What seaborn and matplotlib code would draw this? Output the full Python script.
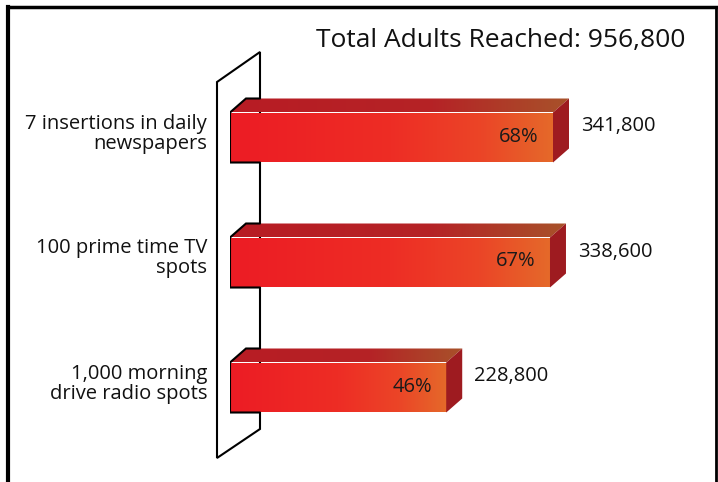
import numpy as np
import pandas as pd
import matplotlib.pyplot as plt
import seaborn as sns
from matplotlib.colors import LinearSegmentedColormap
from matplotlib.patches import Polygon

#%% data
categories = ["7 insertions in daily\nnewspapers",
              "100 prime time TV\nspots",
              "1,000 morning\ndrive radio spots"]
reached = [341800, 338600, 228800]
share = [68, 67, 46]
total_reached = 956800

df = pd.DataFrame({"media": categories, "reached": reached, "share": share})

#%% style
sns.set_theme(style="white")
plt.rcParams["font.family"] = ["Open Sans", "DejaVu Sans"]

W, H = 718, 482
fig = plt.figure(figsize=(W / 100, H / 100), dpi=100)

# background layer in pixel coordinates (frame, wall, title)
deco = fig.add_axes([0, 0, 1, 1])
deco.set_xlim(0, W)
deco.set_ylim(H, 0)
deco.axis("off")

deco.plot([8, 8], [7, H], color="black", lw=3, solid_capstyle="projecting")
deco.plot([8, 716], [7, 7], color="black", lw=2.5, solid_capstyle="projecting")
deco.plot([716, 716], [7, H], color="black", lw=2)

wall = Polygon([(217, 82), (260, 52), (260, 429), (217, 458)], closed=True,
               facecolor="white", edgecolor="black", lw=1.5)
deco.add_patch(wall)

deco.text(685, 40, f"Total Adults Reached: {total_reached:,}", ha="right",
          va="center", fontsize=19, color="#111111")

#%% bars
x_left_px, bar_px = 230, 323
ax = fig.add_axes([x_left_px / W, (H - 450) / H, (W - x_left_px) / W, 375 / H])
xmax = (W - x_left_px) / bar_px * max(reached)
sns.barplot(data=df, y="media", x="reached", orient="h", width=0.4,
            color="#ec1c24", ax=ax)
ax.set_xlim(0, xmax)
ax.set_ylim(2.5, -0.5)
ax.axis("off")
ax.patch.set_alpha(0)

sx = xmax / (W - x_left_px)   # data units per pixel, x
sy = 3 / 375                   # data units per pixel, y
dx, dy = 16 * sx, 14 * sy
wall_edge = 30 * sx

front_cmap = LinearSegmentedColormap.from_list(
    "front", [(0, "#ec1c24"), (0.5, "#ee2d25"), (0.78, "#eb4527"), (1, "#e5692a")])
top_cmap = LinearSegmentedColormap.from_list(
    "top", [(0, "#b81c24"), (0.6, "#b52326"), (1, "#a8522a")])
grad = np.linspace(0, 1, 256).reshape(1, -1)

for i, p in enumerate(ax.patches):
    x0, y0 = p.get_x(), p.get_y()
    w, h = p.get_width(), p.get_height()
    p.set_facecolor("none")
    p.set_linewidth(0)

    im = ax.imshow(grad, cmap=front_cmap, aspect="auto",
                   extent=[x0, x0 + w, y0 + h, y0], zorder=2)
    im.set_clip_path(p)

    top = Polygon([(x0, y0), (x0 + w, y0), (x0 + w + dx, y0 - dy), (x0 + dx, y0 - dy)],
                  closed=True, facecolor="none", lw=0)
    ax.add_patch(top)
    im2 = ax.imshow(grad, cmap=top_cmap, aspect="auto",
                    extent=[x0, x0 + w + dx, y0, y0 - dy], zorder=2)
    im2.set_clip_path(top)

    side = Polygon([(x0 + w, y0), (x0 + w + dx, y0 - dy),
                    (x0 + w + dx, y0 + h - dy), (x0 + w, y0 + h)],
                   closed=True, facecolor="#9e1b20", lw=0, zorder=2)
    ax.add_patch(side)

    ax.plot([wall_edge, x0 + dx, x0, x0, wall_edge],
            [y0 - dy, y0 - dy, y0, y0 + h, y0 + h],
            color="black", lw=1.5, zorder=3, solid_joinstyle="miter")

    yc = y0 + h / 2
    ax.text(x0 + w - 14 * sx, yc - 1 * sy, f"{df['share'][i]}%", ha="right",
            va="center", fontsize=14.5, color="#1a1a1a", zorder=4)
    ax.text(x0 + w + dx + 12 * sx, yc - 11 * sy, f"{df['reached'][i]:,}",
            ha="left", va="center", fontsize=14.5, color="#111111",
            clip_on=False)
    ax.text(-23 * sx, yc - 4 * sy, df["media"][i], ha="right", va="center",
            multialignment="right", linespacing=1.0, fontsize=14.5,
            color="#111111", clip_on=False)

fig.savefig("out.png", dpi=100)
